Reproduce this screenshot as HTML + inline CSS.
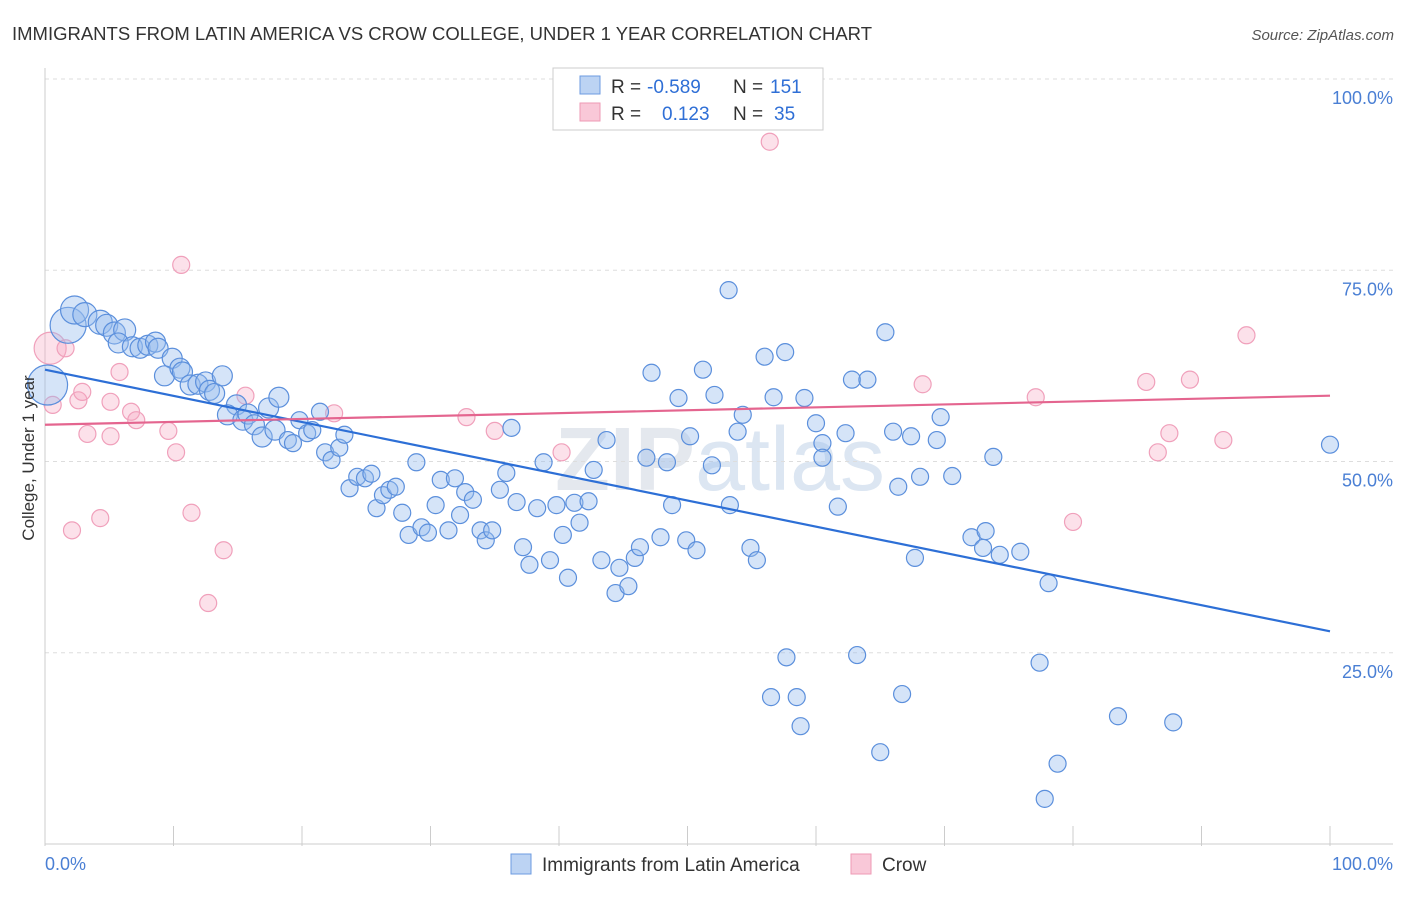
<!DOCTYPE html>
<html><head><meta charset="utf-8">
<style>
body{margin:0;background:#fff;font-family:"Liberation Sans",sans-serif;}
svg text{font-family:"Liberation Sans",sans-serif;}
</style></head>
<body>
<svg id="chart" width="1406" height="892" xmlns="http://www.w3.org/2000/svg">
<text x="12" y="40" font-size="18.5" fill="#333" textLength="860">IMMIGRANTS FROM LATIN AMERICA VS CROW COLLEGE, UNDER 1 YEAR CORRELATION CHART</text>
<text x="1394" y="40" font-size="15" fill="#555" font-style="italic" text-anchor="end">Source: ZipAtlas.com</text>
<text x="720" y="490" font-size="90" fill="#e4e8ee" text-anchor="middle" font-weight="bold">ZIP<tspan font-weight="normal" fill="#dce6f2">atlas</tspan></text>
<g id="grid"></g>
<g id="axes"></g>
<g id="pinkPts"></g>
<g id="bluePts"></g>
<g id="lines"></g>
<text transform="translate(34,458) rotate(-90)" font-size="17" fill="#333" text-anchor="middle">College, Under 1 year</text>
<text x="45" y="870" font-size="18" fill="#4a7fd4">0.0%</text>
<text x="1393" y="870" font-size="18" fill="#4a7fd4" text-anchor="end">100.0%</text>
<g>
<rect x="553" y="68" width="270" height="62" fill="#fff" stroke="#ccc"/>
<rect x="580" y="76" width="20" height="18" fill="#bcd3f3" stroke="#6c9be0"/>
<rect x="580" y="103" width="20" height="18" fill="#f9c8d8" stroke="#ee9ab5"/>
<text x="611" y="93" font-size="19" fill="#333">R =</text>
<text x="647" y="93" font-size="19" fill="#2f6fd6">-0.589</text>
<text x="733" y="93" font-size="19" fill="#333">N =</text>
<text x="770" y="93" font-size="19" fill="#2f6fd6">151</text>
<text x="611" y="120" font-size="19" fill="#333">R =</text>
<text x="662" y="120" font-size="19" fill="#2f6fd6">0.123</text>
<text x="733" y="120" font-size="19" fill="#333">N =</text>
<text x="774" y="120" font-size="19" fill="#2f6fd6">35</text>
</g>
<g>
<rect x="511" y="854" width="20" height="20" fill="#bcd3f3" stroke="#6c9be0"/>
<text x="542" y="871" font-size="19" fill="#333">Immigrants from Latin America</text>
<rect x="851" y="854" width="20" height="20" fill="#f9c8d8" stroke="#ee9ab5"/>
<text x="882" y="871" font-size="19" fill="#333">Crow</text>
</g>
</svg>
<script>
const yTicks=[25,50,75,100];
const yTickLabels=["25.0%","50.0%","75.0%","100.0%"];
const xTicks=[0,10,20,30,40,50,60,70,80,90,100];
const blueX=[0.2,1.8,2.3,3.1,4.3,4.8,5.4,6.2,5.7,6.8,7.4,8.0,8.6,8.8,9.9,9.3,10.5,10.7,11.3,11.9,12.5,12.8,13.2,13.8,14.9,14.2,15.4,15.8,16.3,16.9,17.4,17.9,18.2,18.9,19.3,19.8,20.4,20.8,21.4,21.8,22.3,22.9,23.3,23.7,24.3,24.9,25.4,25.8,26.3,26.8,27.3,27.8,28.3,28.9,29.3,29.8,30.4,30.8,31.4,31.9,32.3,32.7,33.3,33.9,34.3,34.8,35.4,35.9,36.3,36.7,37.2,37.7,38.3,38.8,39.3,39.8,40.3,40.7,41.2,41.6,42.3,42.7,43.3,43.7,44.4,44.7,45.4,45.9,46.3,46.8,47.2,47.9,48.4,48.8,49.3,49.9,50.2,50.7,51.2,51.9,52.1,53.2,53.3,53.9,54.3,54.9,55.4,56.0,56.7,57.6,57.7,56.5,58.5,58.8,59.1,60.0,60.5,60.5,61.7,62.3,62.8,63.2,64.0,65.0,65.4,66.0,66.4,66.7,67.4,67.7,68.1,69.4,69.7,70.6,72.1,73.2,73.0,73.8,74.3,75.9,77.4,78.1,77.8,78.8,83.5,87.8,100];
const blueY=[60.0,67.8,69.8,69.2,68.2,67.8,66.8,67.2,65.5,65.0,64.8,65.2,65.6,64.8,63.5,61.2,62.2,61.7,60.0,60.1,60.4,59.3,58.9,61.2,57.4,56.1,55.4,56.2,54.8,53.2,57.0,54.1,58.4,52.8,52.4,55.4,53.7,54.1,56.5,51.2,50.2,51.8,53.5,46.5,48.0,47.8,48.4,43.9,45.6,46.3,46.7,43.3,40.4,49.9,41.4,40.7,44.3,47.6,41.0,47.8,43.0,46.0,45.0,41.0,39.7,41.0,46.3,48.5,54.4,44.7,38.8,36.5,43.9,49.9,37.1,44.3,40.4,34.8,44.6,42.0,44.8,48.9,37.1,52.8,32.8,36.1,33.7,37.4,38.8,50.5,61.6,40.1,49.9,44.3,58.3,39.7,53.3,38.4,62.0,49.5,58.7,72.4,44.3,53.9,56.1,38.7,37.1,63.7,58.4,64.3,24.4,19.2,19.2,15.4,58.3,55.0,52.4,50.5,44.1,53.7,60.7,24.7,60.7,12.0,66.9,53.9,46.7,19.6,53.3,37.4,48.0,52.8,55.8,48.1,40.1,40.9,38.7,50.6,37.8,38.2,23.7,34.1,5.9,10.5,16.7,15.9,52.2];
const blueSize=[20,18,14,12,12,11,11,11,10,10,10,10,10,10,10,10,10,10,10,10,10,10,10,10,10,10,10,10,10,10,10,10,10];
const pinkX=[0.4,1.6,0.6,2.1,2.6,2.9,3.3,4.3,5.1,5.1,5.8,6.7,7.1,9.6,10.2,10.6,11.4,12.7,13.9,15.6,22.5,32.8,35.0,40.2,56.4,68.3,77.1,80.0,85.7,86.6,87.5,89.1,91.7,93.5];
const pinkY=[64.8,64.8,57.4,41.0,58.0,59.1,53.6,42.6,53.3,57.8,61.7,56.5,55.4,54.0,51.2,75.7,43.3,31.5,38.4,58.6,56.3,55.8,54.0,51.2,91.8,60.1,58.4,42.1,60.4,51.2,53.7,60.7,52.8,66.5];
const pinkSize=[16];
const blueTrend=[62.0,27.8];
const pinkTrend=[54.8,58.6];

const NS="http://www.w3.org/2000/svg";
const xS=v=>45+v*12.85;
const yS=v=>844-v*7.65;
function mk(tag,attrs,parent){const e=document.createElementNS(NS,tag);for(const k in attrs)e.setAttribute(k,attrs[k]);parent.appendChild(e);return e;}
const grid=document.getElementById('grid'),axes=document.getElementById('axes');
yTicks.forEach((t,i)=>{
  const l=mk('line',{x1:45,x2:1393,y1:yS(t),y2:yS(t),stroke:'#ddd','stroke-dasharray':'4,4'},grid);
  
  
  const tx=mk('text',{x:1393,y:yS(t)+25,'font-size':18,fill:'#4a7fd4','text-anchor':'end'},grid);
  tx.textContent=yTickLabels[i];
  
  
});
const ax=mk('line',{x1:45,x2:1393,y1:844,y2:844,stroke:'#ccc'},axes);


const ay=mk('line',{x1:45,x2:45,y1:68,y2:844,stroke:'#ccc'},axes);


xTicks.forEach(t=>{
  const l=mk('line',{x1:xS(t),x2:xS(t),y1:826,y2:846,stroke:'#ccc'},axes);
  
  
});
const pg=document.getElementById('pinkPts');
pinkX.forEach((x,i)=>{
  const c=mk('circle',{cx:xS(x),cy:yS(pinkY[i]),r:pinkSize[i]||8.5,fill:'rgba(246,170,195,0.35)',stroke:'#f0a0bb','stroke-width':1.2},pg);
  
  
});
const bg=document.getElementById('bluePts');
blueX.forEach((x,i)=>{
  const c=mk('circle',{cx:xS(x),cy:yS(blueY[i]),r:blueSize[i]||8.5,fill:'rgba(150,188,238,0.4)',stroke:'#5b8fdc','stroke-width':1.2},bg);
  
  
});
const lg=document.getElementById('lines');
const bl=mk('line',{x1:xS(0),y1:yS(blueTrend[0]),x2:xS(100),y2:yS(blueTrend[1]),stroke:'#2d6fd6','stroke-width':2.2},lg);


const pl=mk('line',{x1:xS(0),y1:yS(pinkTrend[0]),x2:xS(100),y2:yS(pinkTrend[1]),stroke:'#e4658f','stroke-width':2.2},lg);


</script>
</body></html>
